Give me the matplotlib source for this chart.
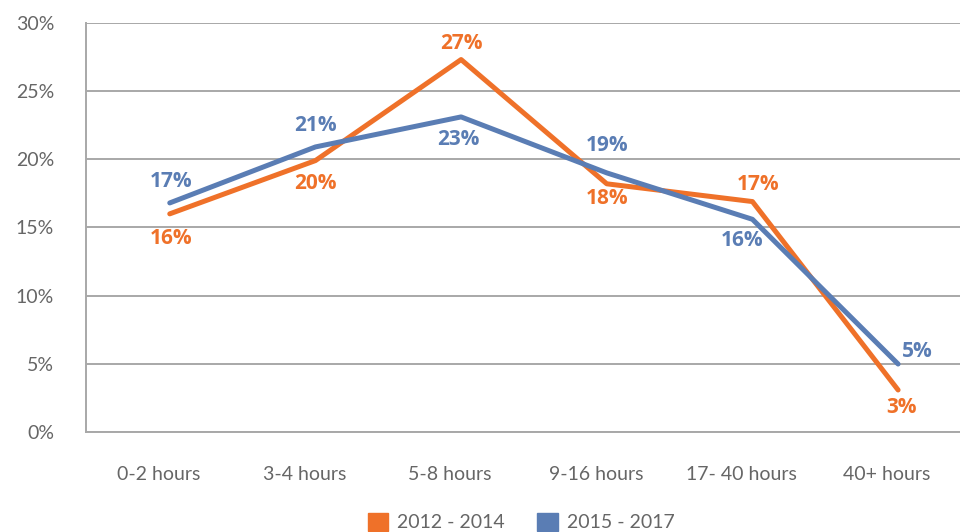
import numpy as np
import matplotlib
matplotlib.use('Agg')
import matplotlib.pyplot as plt
from matplotlib.patches import Patch

# data
categories = ['0-2 hours', '3-4 hours', '5-8 hours', '9-16 hours', '17- 40 hours', '40+ hours']
series_names = ['2012 - 2014', '2015 - 2017']
values_2012 = [16.0, 19.9, 27.3, 18.2, 16.9, 3.1]
values_2015 = [16.8, 20.9, 23.1, 19.0, 15.6, 5.0]
labels_2012 = ['16%', '20%', '27%', '18%', '17%', '3%']
labels_2015 = ['17%', '21%', '23%', '19%', '16%', '5%']
yticks = [0, 5, 10, 15, 20, 25, 30]

orange = '#EF7129'
blue = '#5A7DB4'
grid_col = '#A8A8A8'
text_col = '#666666'

# label offsets in pixels (dx, dy)
off_2012 = [(1, -25), (0, -23), (0, 16), (0, -15), (6, 17), (3, -18)]
off_2015 = [(1, 21), (0, 21), (-3, -23), (0, 27), (-10, -21), (19, 13)]

fig = plt.figure(figsize=(9.6, 5.32), dpi=100)
ax = fig.add_axes([86 / 960, (532 - 432.3) / 532, 874 / 960, (432.3 - 22.7) / 532])

x = np.arange(len(categories))
xp = x + 0.075  # lines sit slightly right of the category centres in the original

ax.plot(xp, values_2012, color=orange, lw=3.6, solid_capstyle='round', zorder=3)
ax.plot(xp, values_2015, color=blue, lw=3.6, solid_capstyle='round', zorder=4)

lab_font = dict(family='Open Sans', fontweight='bold', fontsize=15,
                ha='center', va='center', textcoords='offset pixels')
for xi, v, t, o in zip(xp, values_2012, labels_2012, off_2012):
    ax.annotate(t, (xi, v), xytext=o, color=orange, **lab_font)
for xi, v, t, o in zip(xp, values_2015, labels_2015, off_2015):
    ax.annotate(t, (xi, v), xytext=o, color=blue, **lab_font)

ax.set_xlim(-0.5, 5.5)
ax.set_ylim(0, 30)
ax.set_yticks(yticks)
ax.set_yticklabels([f'{t}%' for t in yticks])
ax.set_xticks(x)
ax.set_xticklabels(categories)
ax.grid(axis='y', color=grid_col, lw=1.4)
ax.set_axisbelow(True)
for s in ['top', 'right']:
    ax.spines[s].set_visible(False)
for s in ['left', 'bottom']:
    ax.spines[s].set_color(grid_col)
    ax.spines[s].set_linewidth(1.4)
ax.tick_params(axis='y', length=0, pad=23, labelsize=14, labelcolor=text_col)
ax.tick_params(axis='x', length=0, pad=24, labelsize=14, labelcolor=text_col)
for lbl in ax.get_xticklabels() + ax.get_yticklabels():
    lbl.set_family('Lato')

handles = [Patch(color=orange), Patch(color=blue)]
leg = fig.legend(handles, series_names, loc='center', bbox_to_anchor=(521 / 960, 10 / 532),
                 ncol=2, frameon=False, handlelength=1.05, handleheight=1.05,
                 handletextpad=0.45, columnspacing=1.7,
                 prop={'family': 'Lato', 'size': 14})
for t in leg.get_texts():
    t.set_color(text_col)

fig.savefig('out.png', dpi=100)
